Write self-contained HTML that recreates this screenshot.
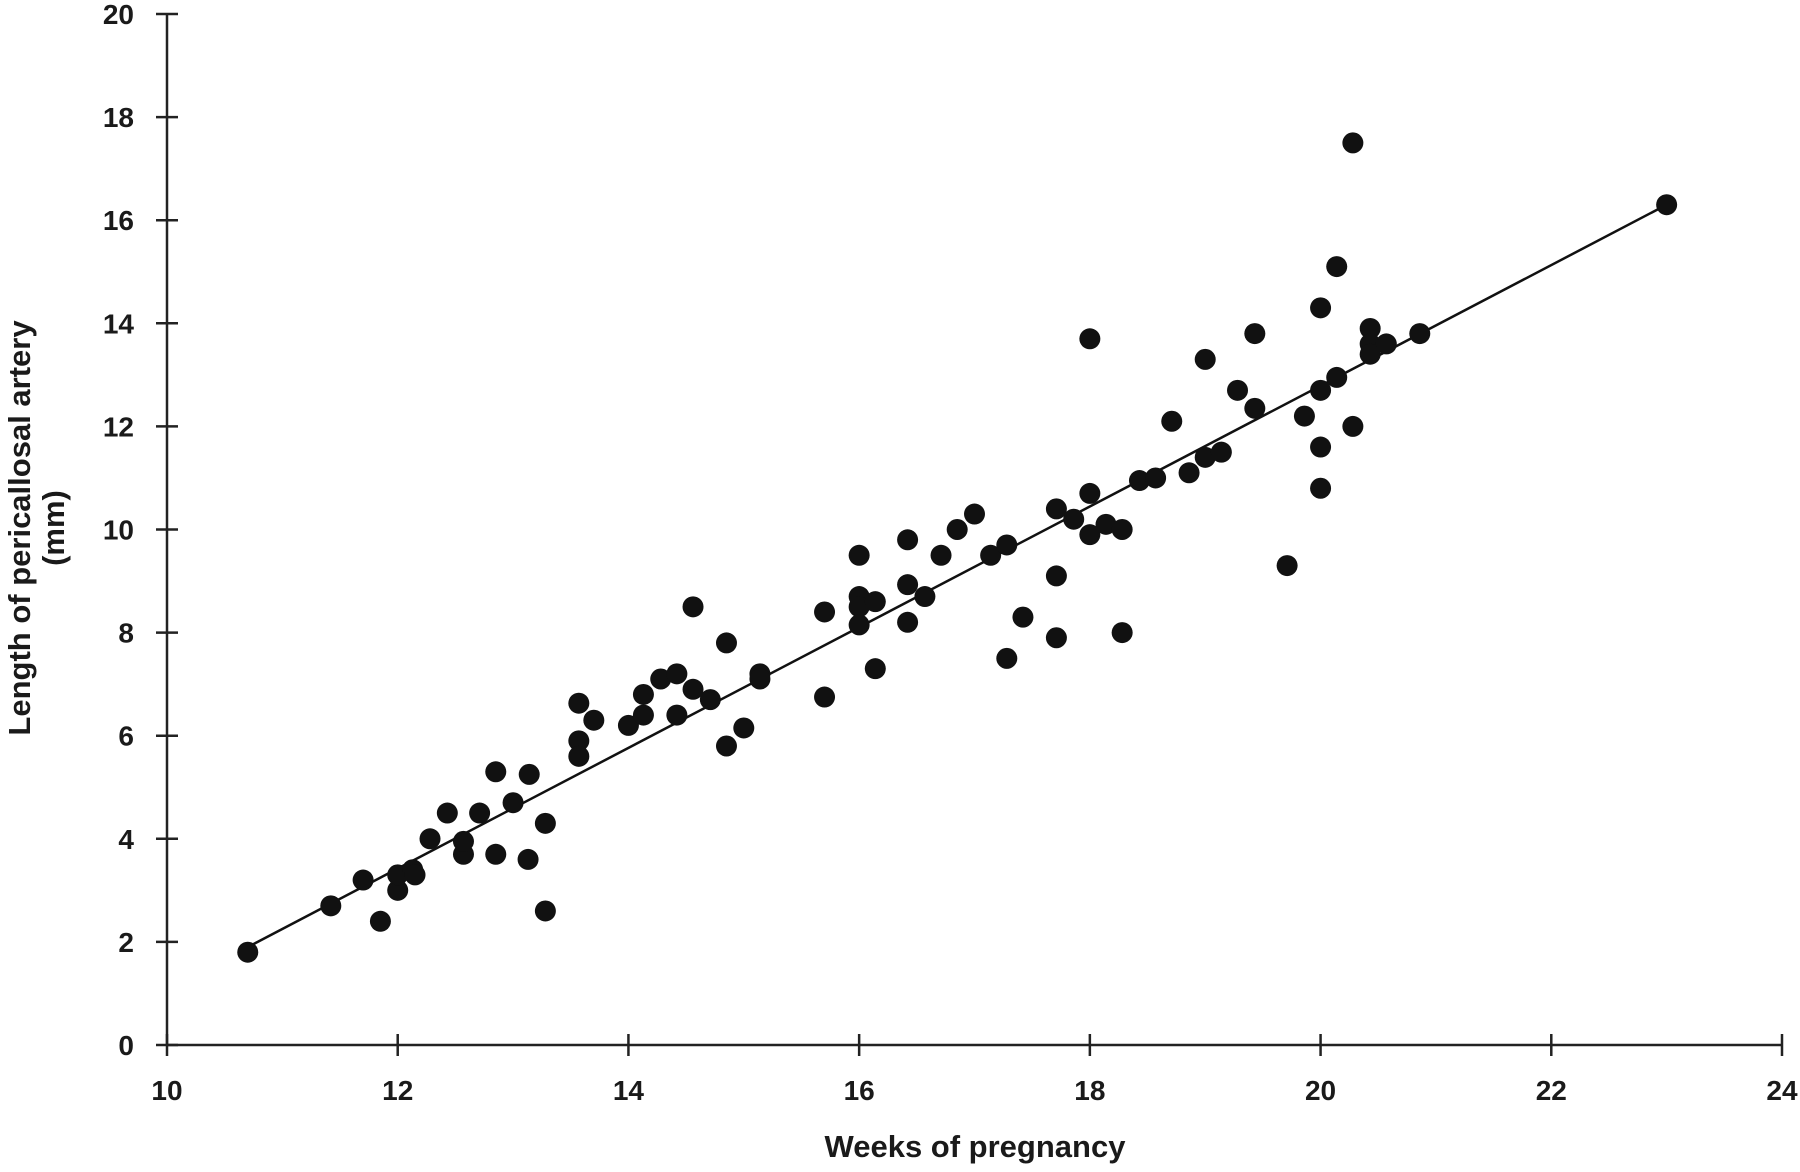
<!DOCTYPE html>
<html><head><meta charset="utf-8"><style>
body{margin:0;background:#fff}
svg text{font-family:"Liberation Sans",sans-serif;font-weight:bold;fill:#1a1a1a}
</style></head><body>
<svg id="chart" width="1800" height="1167" viewBox="0 0 1800 1167" xmlns="http://www.w3.org/2000/svg">
<g id="axes"></g>
<g id="marks"></g>
<text x="975" y="1157" text-anchor="middle" font-size="31">Weeks of pregnancy</text>
<g transform="translate(30,528) rotate(-90)">
<text x="0" y="0" text-anchor="middle" font-size="31">Length of pericallosal artery</text>
<text x="0" y="34" text-anchor="middle" font-size="31">(mm)</text>
</g>
</svg>
<script>
const xTicks=[10,12,14,16,18,20,22,24];
const yTicks=[0,2,4,6,8,10,12,14,16,18,20];
const weeks=[10.7,11.42,11.7,11.85,12.0,12.0,12.13,12.15,12.28,12.43,12.57,12.57,12.71,12.85,12.85,13.0,13.14,13.13,13.28,13.28,13.57,13.57,13.57,13.7,14.0,14.13,14.13,14.28,14.42,14.42,14.56,14.56,14.71,14.85,14.85,15.0,15.14,15.14,15.7,15.7,16.0,16.0,16.0,16.0,16.14,16.14,16.42,16.42,16.42,16.57,16.71,16.85,17.0,17.14,17.28,17.28,17.42,17.71,17.71,17.71,17.86,18.0,18.0,18.0,18.14,18.28,18.28,18.43,18.57,18.71,18.86,19.0,19.0,19.14,19.28,19.43,19.43,19.71,19.86,20.0,20.0,20.0,20.0,20.14,20.14,20.28,20.28,20.43,20.43,20.43,20.57,20.86,23.0];
const lengths=[1.8,2.7,3.2,2.4,3.0,3.3,3.4,3.3,4.0,4.5,3.7,3.95,4.5,5.3,3.7,4.7,5.25,3.6,4.3,2.6,6.63,5.9,5.6,6.3,6.2,6.8,6.4,7.1,7.2,6.4,8.5,6.9,6.7,7.8,5.8,6.15,7.2,7.1,8.4,6.75,9.5,8.7,8.5,8.15,8.6,7.3,9.8,8.93,8.2,8.7,9.5,10.0,10.3,9.5,9.7,7.5,8.3,10.4,9.1,7.9,10.2,13.7,10.7,9.9,10.1,10.0,8.0,10.95,11.0,12.1,11.1,13.3,11.4,11.5,12.7,13.8,12.35,9.3,12.2,14.3,12.7,11.6,10.8,15.1,12.95,17.5,12.0,13.9,13.6,13.4,13.6,13.8,16.3];
const fitX=[10.7,23.0];
const fitY=[1.9,16.3];
const X0=167,X1=1782,Y0=1045,Y1=14;
const sx=v=>X0+(v-10)*(X1-X0)/14;
const sy=v=>Y0-v*(Y0-Y1)/20;
const NS='http://www.w3.org/2000/svg';
const axes=document.getElementById('axes'),marks=document.getElementById('marks');
function mk(p,tag,at){const e=document.createElementNS(NS,tag);for(const k in at)e.setAttribute(k,at[k]);p.appendChild(e);return e;}
const xl=mk(axes,'line',{x1:X0,y1:Y0,x2:X1,y2:Y0,stroke:'#222','stroke-width':2.5});


const yl=mk(axes,'line',{x1:X0,y1:Y0,x2:X0,y2:Y1,stroke:'#222','stroke-width':2.5});


xTicks.forEach(t=>{
  const l=mk(axes,'line',{x1:sx(t),y1:Y0-11,x2:sx(t),y2:Y0+11,stroke:'#222','stroke-width':2.5});
  
  
  const tx=mk(axes,'text',{x:sx(t),y:Y0+55,'text-anchor':'middle','font-size':28});
  tx.textContent=t;
  
  
});
yTicks.forEach(t=>{
  const l=mk(axes,'line',{x1:X0-11,y1:sy(t),x2:X0+11,y2:sy(t),stroke:'#222','stroke-width':2.5});
  
  
  const tx=mk(axes,'text',{x:X0-33,y:sy(t)+10,'text-anchor':'end','font-size':28});
  tx.textContent=t;
  
  
});
const fl=mk(marks,'line',{x1:sx(fitX[0]),y1:sy(fitY[0]),x2:sx(fitX[1]),y2:sy(fitY[1]),stroke:'#111','stroke-width':2.5});


weeks.forEach((w,i)=>{
  const c=mk(marks,'circle',{cx:sx(w),cy:sy(lengths[i]),r:10.5,fill:'#111'});
  
  
});
</script>
</body></html>
